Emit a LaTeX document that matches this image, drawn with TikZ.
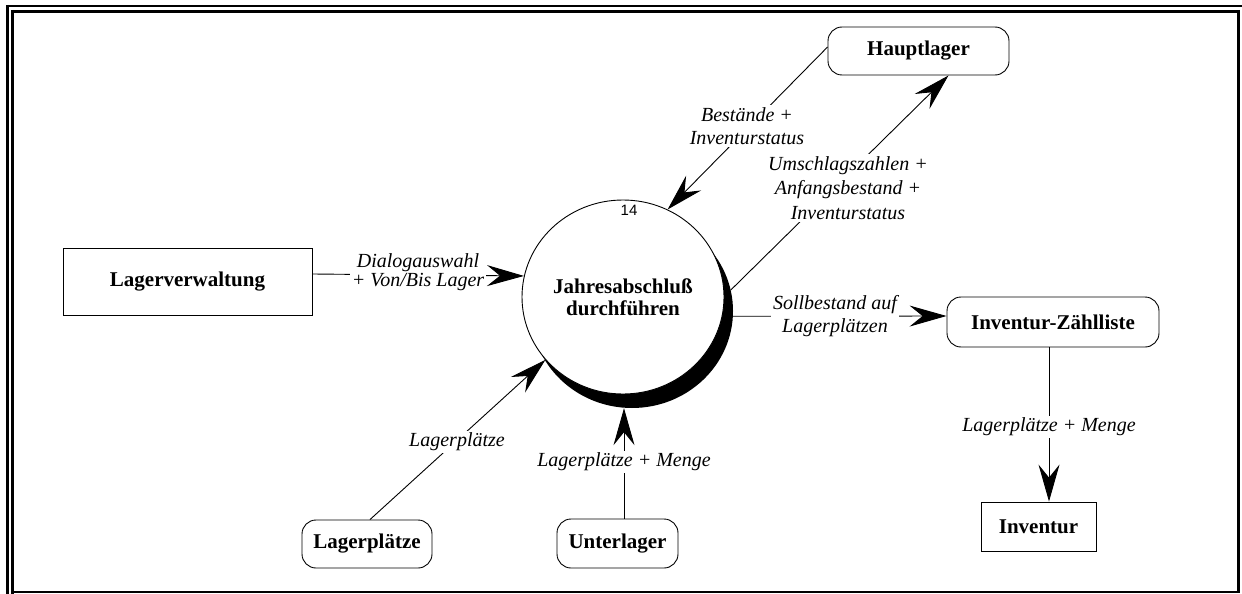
\documentclass[tikz,border=0pt]{standalone}
\usepackage{fontspec}
\setmainfont{Liberation Serif}
\newfontfamily\numfont{Liberation Sans}
\usetikzlibrary{arrows.meta,shapes.geometric}
\begin{document}
\begin{tikzpicture}[x=1pt,y=-1pt,
  conn/.style={line width=0.9pt},
  flow/.style={conn,-{Stealth[length=37pt,width=21pt,inset=13pt]}},
  boxtext/.style={font=\fontsize{21}{24}\selectfont\bfseries},
  term/.style={draw,line width=0.9pt,rounded corners=14pt,inner sep=0pt,boxtext},
  ext/.style={draw,line width=0.9pt,inner sep=0pt,boxtext},
  lbl/.style={fill=white,inner sep=2pt,align=center,font=\fontsize{20}{23}\selectfont\itshape},
  proctext/.style={align=center,font=\fontsize{21}{22}\selectfont\bfseries},
]
\useasboundingbox (0,0) rectangle (1242,594);

% double window frame
\draw[line width=2.4pt] (6,6.2) -- (1242,6.2);
\draw[line width=2.4pt] (7.3,5) -- (7.3,594);
\draw[line width=2.6pt] (12.3,11.3) -- (1240,11.3);
\draw[line width=2.6pt] (12.3,10) -- (12.3,594);
\draw[line width=2.6pt] (1238.5,10) -- (1238.5,593);
\draw[line width=1.6pt] (12.3,591.8) -- (1238.5,591.8);

% process with drop shadow
\node[ellipse,fill=black,minimum width=202pt,minimum height=194pt,inner sep=0pt] (procshadow) at (632,311) {};
\node[ellipse,draw,fill=white,line width=0.9pt,minimum width=202pt,minimum height=194pt,inner sep=0pt,proctext] (proc) at (623,297) {Jahresabschluß\\durchführen};
\node[font=\numfont\fontsize{15}{18}\selectfont,inner sep=0pt] (num) at (629,210) {14};

% terminators and stores
\node[ext,minimum width=249pt,minimum height=67pt] (lv) at (187.5,281.5) {Lagerverwaltung};
\node[term,minimum width=181pt,minimum height=48pt] (hl) at (918.5,51) {Hauptlager};
\node[term,minimum width=212pt,minimum height=50pt] (zl) at (1053,322) {Inventur-Zählliste};
\node[ext,minimum width=115pt,minimum height=49pt] (inv) at (1038.5,526.5) {Inventur};
\node[term,minimum width=130pt,minimum height=48pt] (lp) at (367,544) {Lagerplätze};
\node[term,minimum width=121pt,minimum height=49pt] (ul) at (617.5,543.5) {Unterlager};

% data flows
\draw[flow] ([yshift=7.5pt]lv.east) -- (proc.168);
\draw[flow] ([yshift=4pt]hl.west) -- (proc.63);
\draw[flow] (procshadow.12) -- ([xshift=30pt]hl.south);
\draw[flow] (procshadow.-3) -- ([yshift=6pt]zl.west);
\draw[flow] ([xshift=-4pt]zl.south) -- ([xshift=-4pt]zl.south |- inv.north);
\draw[flow] ([xshift=3pt]lp.north) -- (proc.219);
\draw[flow] ([xshift=6.5pt]ul.north) -- ([xshift=6.5pt]ul.north |- procshadow.south);

% flow labels
\node[lbl,font=\fontsize{20}{15.5}\selectfont\itshape] (ldialog) at (418,272) {Dialogauswahl\\+ Von/Bis Lager};
\node[lbl] (lbest) at (747,126) {Bestände +\\Inventurstatus};
\node[lbl,font=\fontsize{20}{24.5}\selectfont\itshape] (lumsch) at (848,188) {Umschlagszahlen +\\Anfangsbestand +\\Inventurstatus};
\node[lbl] (lsoll) at (835,316) {Sollbestand auf\\Lagerplätzen};
\node[lbl] (llp) at (457,442) {Lagerplätze};
\node[lbl] (lul) at (624,462) {Lagerplätze + Menge};
\node[lbl] (lzl) at (1049,427) {Lagerplätze + Menge};
\end{tikzpicture}
\end{document}
